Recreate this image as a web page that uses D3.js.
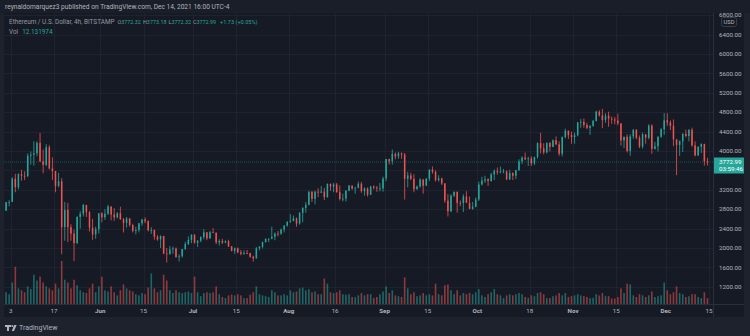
<!DOCTYPE html>
<html><head><meta charset="utf-8">
<script src="https://cdn.jsdelivr.net/npm/d3@7"></script>
<style>
html,body{margin:0;padding:0;background:#1e222d;overflow:hidden;}
svg{display:block;}
text{font-family:Roboto,"Liberation Sans",Arial,sans-serif;}
</style></head><body>
<svg id="c" width="750" height="336"></svg>
<script>
// ---- data: daily candles [open, high, low, close], ETH/USD, starting 2021-05-01
const startDate = "2021-05-01";
const may = [
[2772,2950,2760,2945],[2945,2985,2860,2950],[2950,3460,2950,3431],[3431,3530,3150,3253],[3253,3540,3210,3522],
[3522,3610,3390,3490],[3490,3580,3400,3484],[3484,3950,3460,3903],[3903,3990,3720,3924],[3924,4200,3700,3952],
[3952,4200,3890,4168],[4168,4372,3780,3785],[3785,4030,3540,3715],[3715,4140,3690,4079],[4079,4120,3620,3640],
[3640,3870,3400,3587],[3587,3590,3150,3282],[3282,3550,3250,3374],[3374,3440,1870,2430],[2430,2950,2150,2784],
[2784,2930,2120,2430],[2430,2490,2150,2296],[2296,2380,1730,2101],[2101,2650,2080,2643],[2643,2760,2400,2706],
[2706,2910,2650,2888],[2888,2890,2640,2736],[2736,2760,2340,2419],[2419,2600,2170,2280],[2280,2440,2190,2386],
[2386,2720,2300,2714]];
const jun = [
[2714,2740,2530,2634],[2634,2800,2580,2707],[2707,2890,2680,2855],[2855,2860,2570,2689],[2689,2820,2560,2630],
[2630,2740,2610,2715],[2715,2850,2580,2590],[2590,2620,2320,2517],[2517,2640,2420,2608],[2608,2620,2440,2472],
[2472,2500,2320,2354],[2354,2440,2280,2372],[2372,2520,2320,2508],[2508,2600,2460,2587],[2587,2630,2510,2553],
[2553,2570,2340,2367],[2367,2430,2290,2373],[2373,2380,2170,2231],[2231,2270,2150,2178],[2178,2260,2000,2247],
[2247,2250,1870,1888],[1888,2000,1700,1875],[1875,2040,1860,1971],[1971,2030,1880,1990],[1990,2010,1800,1812],
[1812,1870,1720,1829],[1829,1980,1800,1979],[1979,2130,1960,2083],[2083,2240,2060,2165],[2165,2280,2100,2275]];
const jul = [
[2275,2280,2090,2110],[2110,2160,2020,2150],[2150,2240,2120,2226],[2226,2390,2180,2322],[2322,2330,2160,2198],
[2198,2350,2190,2324],[2324,2410,2310,2315],[2315,2320,2080,2116],[2116,2180,2050,2146],[2146,2190,2080,2111],
[2111,2160,2100,2139],[2139,2170,2020,2036],[2036,2040,1930,1940],[1940,2010,1880,1994],[1994,2010,1890,1911],
[1911,1960,1850,1880],[1880,1950,1860,1898],[1898,1960,1870,1895],[1895,1900,1800,1820],[1820,1840,1718,1787],
[1787,2020,1780,1995],[1995,2040,1950,2025],[2025,2130,1990,2124],[2124,2200,2110,2187],[2187,2200,2120,2191],
[2191,2440,2180,2231],[2231,2320,2160,2298],[2298,2350,2240,2297],[2297,2400,2270,2383],[2383,2470,2320,2462],
[2462,2550,2440,2540]];
const aug = [
[2540,2700,2520,2559],[2559,2670,2550,2611],[2611,2630,2440,2505],[2505,2740,2480,2725],[2725,2840,2530,2827],
[2827,2950,2730,2890],[2890,3180,2880,3157],[3157,3180,2950,3013],[3013,3180,2900,3163],[3163,3230,3050,3142],
[3142,3280,3130,3164],[3164,3240,2990,3048],[3048,3330,3040,3322],[3322,3330,3180,3266],[3266,3340,3150,3310],
[3310,3340,3140,3150],[3150,3290,2980,3012],[3012,3120,2960,3017],[3017,3190,2960,3182],[3182,3300,3170,3286],
[3286,3290,3200,3225],[3225,3260,3120,3241],[3241,3370,3230,3324],[3324,3360,3140,3172],[3172,3250,3080,3228],
[3228,3250,3060,3099],[3099,3280,3090,3269],[3269,3290,3210,3245],[3245,3280,3160,3227],[3227,3340,3170,3227],
[3227,3470,3160,3433]];
const sep = [
[3433,3840,3380,3834],[3834,3840,3720,3789],[3789,4030,3720,3941],[3941,3970,3830,3887],[3887,3980,3840,3952],
[3952,3970,3840,3927],[3927,3960,3000,3427],[3427,3570,3250,3497],[3497,3550,3400,3427],[3427,3520,3150,3212],
[3212,3290,3200,3270],[3270,3440,3240,3410],[3410,3420,3120,3285],[3285,3440,3280,3430],[3430,3620,3380,3615],
[3615,3680,3530,3572],[3572,3600,3370,3400],[3400,3500,3370,3433],[3433,3450,3300,3331],[3331,3340,2930,2977],
[2977,3110,2650,2757],[2757,3110,2740,3078],[3078,3170,3050,3155],[3155,3170,2730,2931],[2931,2980,2860,2925],
[2925,3110,2740,3062],[3062,3170,2930,2934],[2934,3060,2800,2807],[2807,2950,2790,2850],[2850,3040,2840,3001]];
const oct = [
[3001,3370,2970,3309],[3309,3470,3290,3390],[3390,3490,3340,3418],[3418,3440,3280,3380],[3380,3550,3370,3517],
[3517,3620,3400,3589],[3589,3660,3510,3563],[3563,3680,3540,3575],[3575,3630,3540,3577],[3577,3600,3400,3415],
[3415,3610,3400,3545],[3545,3560,3400,3489],[3489,3610,3420,3606],[3606,3830,3590,3787],[3787,3890,3730,3865],
[3865,3970,3810,3829],[3829,3880,3690,3847],[3847,3890,3690,3744],[3744,3880,3710,3878],[3878,4180,3840,4162],
[4162,4375,3950,4055],[4055,4160,3930,3971],[3971,4170,3950,4169],[4169,4180,3990,4084],[4084,4240,4080,4222],
[4222,4300,4120,4138],[4138,4200,3900,3944],[3944,4300,3890,4287],[4287,4460,4260,4419],[4419,4420,4250,4326],
[4326,4400,4150,4288]];
const nov = [
[4288,4380,4150,4324],[4324,4600,4300,4590],[4590,4660,4480,4603],[4603,4670,4480,4537],[4537,4580,4450,4477],
[4477,4530,4330,4518],[4518,4640,4500,4620],[4620,4830,4610,4812],[4812,4840,4710,4735],[4735,4868,4470,4637],
[4637,4780,4580,4730],[4730,4810,4500,4668],[4668,4710,4560,4649],[4649,4700,4550,4627],[4627,4770,4530,4570],
[4570,4570,4110,4218],[4218,4300,4060,4291],[4291,4340,3970,3999],[3999,4350,3900,4302],[4302,4450,4250,4437],
[4437,4450,4240,4271],[4271,4320,4060,4091],[4091,4380,4050,4343],[4343,4350,4150,4273],[4273,4550,4240,4525],
[4525,4550,3940,4045],[4045,4190,4030,4098],[4098,4300,3990,4295],[4295,4470,4270,4448],[4448,4780,4330,4632]];
const dec = [
[4632,4780,4520,4588],[4588,4630,4430,4518],[4518,4650,4100,4240],[4240,4240,3500,4124],[4124,4220,3900,4201],
[4201,4370,3980,4353],[4353,4440,4280,4308],[4308,4450,4200,4437],[4437,4480,4090,4115],[4115,4200,3890,3909],
[3909,4100,3900,4086],[4086,4160,3960,4143],[4143,4150,3700,3787],[3787,3860,3700,3773]];

// daily volume (thousand ETH)
const volMay = [30,25,55,95,40,35,30,45,38,75,60,70,55,45,40,35,52,40,110,62,55,40,62,48,35,30,28,40,52,30,45];
const volJun = [70,35,32,45,30,22,35,50,40,35,32,25,22,28,25,42,78,40,30,35,75,60,35,28,35,30,28,30,32,28];
const volJul = [70,30,20,28,30,28,30,45,25,18,15,22,24,22,25,22,15,15,24,30,45,25,22,20,18,35,30,22,22,25,22];
const volAug = [35,30,32,40,42,35,38,30,32,25,25,65,52,30,28,30,35,25,24,25,18,18,22,28,22,25,25,15,18,25,32];
const volSep = [45,28,35,22,20,18,68,40,25,30,20,22,28,22,25,22,52,25,22,48,50,35,25,35,22,28,25,28,25,30];
const volOct = [38,22,18,25,30,38,25,22,15,22,25,22,25,28,25,18,16,22,20,28,30,25,15,15,20,22,28,22,28,18,20];
const volNov = [22,25,22,20,18,15,16,25,22,28,20,20,14,14,18,40,28,52,50,22,18,25,22,18,22,32,18,20,22,55];
const volDec = [35,25,30,45,28,25,18,20,25,25,18,15,30,15];

const priceTicks = [1200,1600,2000,2400,2800,3200,3600,4000,4400,4800,5200,5600,6000,6400,6800];
const timeTicks = [
 ["2021-05-03","3",false],["2021-05-17","17",false],["2021-06-01","Jun",true],["2021-06-15","15",false],
 ["2021-07-01","Jul",true],["2021-07-15","15",false],["2021-08-01","Aug",true],["2021-08-16","16",false],
 ["2021-09-01","Sep",true],["2021-09-15","15",false],["2021-10-01","Oct",true],["2021-10-18","18",false],
 ["2021-11-01","Nov",true],["2021-11-15","15",false],["2021-12-01","Dec",true],["2021-12-15","15",false]];
const legendItems = [["O","3772.32"],["H","3773.18"],["L","3772.32"],["C","3772.99"]];
const lastPrice = 3772.99;
const headerText = "reynaldomarquez3 published on TradingView.com, Dec 14, 2021 16:00 UTC-4";

// ---- build
const ohlc = [...may,...jun,...jul,...aug,...sep,...oct,...nov,...dec];
const vols = [...volMay,...volJun,...volJul,...volAug,...volSep,...volOct,...volNov,...volDec];
const DAY = 864e5;
const t0 = new Date(startDate+"T00:00:00Z").getTime();
const data = ohlc.map((d,i)=>({t:new Date(t0+i*DAY+DAY/2),o:d[0],h:d[1],l:d[2],c:d[3],v:vols[i]}));

const UP="#26a69a", DN="#ef5350";
const svg = d3.select("#c");
const P = {x0:4,x1:744,y0:13,y1:317,px:713,ty:304};

const x = d3.scaleUtc().domain([new Date("2021-05-03T00:00:00Z"),new Date("2021-12-15T00:00:00Z")]).range([10.7,709]);
const y = d3.scaleLinear().domain([1200,6800]).range([286.8,15.2]);
const yv = d3.scaleLinear().domain([0,115]).range([P.ty,P.ty-45]);

// background
svg.append("rect").attr("width",750).attr("height",336).attr("fill","#1e222d");
svg.append("rect").attr("x",0).attr("y",0).attr("width",750).attr("height",P.y0).attr("fill","#1a1e29");
svg.append("rect").attr("x",P.x0).attr("y",P.y0).attr("width",P.x1-P.x0).attr("height",P.y1-P.y0).attr("fill","#161a25");

const defs = svg.append("defs");
defs.append("clipPath").attr("id","plot").append("rect").attr("x",P.x0).attr("y",P.y0).attr("width",P.px-P.x0).attr("height",P.ty-P.y0);
defs.append("clipPath").attr("id","axis").append("rect").attr("x",P.px).attr("y",P.y0).attr("width",P.x1-P.px).attr("height",P.y1-P.y0);

// grid
const grid = svg.append("g").attr("clip-path","url(#plot)");
grid.selectAll("line.h").data(priceTicks).join("line")
  .attr("x1",P.x0).attr("x2",P.px).attr("y1",d=>Math.round(y(d))+0.5).attr("y2",d=>Math.round(y(d))+0.5)
  .attr("stroke","#1f2331").attr("stroke-width",1);
grid.selectAll("line.v").data(timeTicks).join("line")
  .attr("x1",d=>Math.round(x(new Date(d[0]+"T00:00:00Z")))+0.5).attr("x2",d=>Math.round(x(new Date(d[0]+"T00:00:00Z")))+0.5)
  .attr("y1",P.y0).attr("y2",P.ty).attr("stroke","#1f2331").attr("stroke-width",1);

// volume
const gv = svg.append("g").attr("clip-path","url(#plot)");
gv.selectAll("rect").data(data).join("rect")
  .attr("x",d=>x(d.t)-0.8).attr("width",1.6)
  .attr("y",d=>yv(d.v)).attr("height",d=>P.ty-yv(d.v))
  .attr("fill",d=>d.c>=d.o?UP:DN).attr("opacity",0.55);

// last price line
svg.append("line").attr("x1",P.x0).attr("x2",P.px).attr("y1",y(lastPrice)).attr("y2",y(lastPrice))
  .attr("stroke",UP).attr("stroke-opacity",0.4).attr("stroke-width",1).attr("stroke-dasharray","1,1");

// candles
const gc = svg.append("g").attr("clip-path","url(#plot)");
gc.selectAll("line").data(data).join("line")
  .attr("x1",d=>x(d.t)).attr("x2",d=>x(d.t)).attr("y1",d=>y(d.h)).attr("y2",d=>y(d.l))
  .attr("stroke",d=>d.c>=d.o?UP:DN).attr("stroke-width",0.8);
gc.selectAll("rect").data(data).join("rect")
  .attr("x",d=>x(d.t)-0.75).attr("width",1.5)
  .attr("y",d=>y(Math.max(d.o,d.c))).attr("height",d=>Math.max(0.8,Math.abs(y(d.o)-y(d.c))))
  .attr("fill",d=>d.c>=d.o?UP:DN);

// separators
svg.append("line").attr("x1",P.px+0.5).attr("x2",P.px+0.5).attr("y1",P.y0).attr("y2",P.y1).attr("stroke","#2a2e39");
svg.append("line").attr("x1",P.x0).attr("x2",P.x1).attr("y1",P.ty+0.5).attr("y2",P.ty+0.5).attr("stroke","#2a2e39");

// price axis labels
const ga = svg.append("g").attr("clip-path","url(#axis)");
ga.selectAll("text").data(priceTicks).join("text")
  .attr("x",719).attr("y",d=>y(d)).attr("dy","0.35em")
  .attr("font-size",6.2).attr("fill","#b2b5be").text(d=>d3.format(".2f")(d));

// USD badge
svg.append("rect").attr("x",721.5).attr("y",17.5).attr("width",15).attr("height",9).attr("rx",2)
  .attr("fill","#161a25").attr("stroke","#434651").attr("stroke-width",0.8);
svg.append("text").attr("x",729).attr("y",22).attr("dy","0.35em").attr("text-anchor","middle")
  .attr("font-size",5.8).attr("fill","#b2b5be").text("USD");

// last price badge
svg.append("rect").attr("x",P.px+1).attr("y",157.5).attr("width",P.x1-P.px-1).attr("height",16).attr("fill",UP);
svg.append("text").attr("x",719).attr("y",161.8).attr("dy","0.35em").attr("font-size",6.2).attr("fill","#ffffff").text(d3.format(".2f")(lastPrice));
svg.append("text").attr("x",719).attr("y",169.3).attr("dy","0.35em").attr("font-size",6.2).attr("fill","#ffffff").text("03:59:46");

// time axis labels
svg.append("g").selectAll("text").data(timeTicks).join("text")
  .attr("x",d=>x(new Date(d[0]+"T00:00:00Z"))).attr("y",311).attr("dy","0.35em").attr("text-anchor","middle")
  .attr("font-size",6.2).attr("font-weight",d=>d[2]?"bold":"normal").attr("fill","#b2b5be").text(d=>d[1]);

// header
svg.append("text").attr("x",5).attr("y",7).attr("dy","0.35em").attr("font-size",6.6).attr("fill","#b2b5be").text(headerText);

// legend
const legY = 22, legX = [117.5,143,168.5,193];
svg.append("text").attr("x",9).attr("y",legY).attr("dy","0.35em").attr("font-size",6.4).attr("fill","#9598a1")
  .text("Ethereum / U.S. Dollar, 4h, BITSTAMP");
legendItems.forEach(([k,v],i)=>{
  const t = svg.append("text").attr("x",legX[i]).attr("y",legY).attr("dy","0.35em").attr("font-size",5.4).attr("fill","#9598a1");
  t.append("tspan").text(k);
  t.append("tspan").attr("fill",UP).text(v);
});
svg.append("text").attr("x",220).attr("y",legY).attr("dy","0.35em").attr("font-size",5.6).attr("fill",UP).text("+1.73 (+0.05%)");
const vl = svg.append("text").attr("x",9).attr("y",31.5).attr("dy","0.35em").attr("font-size",6.4).attr("fill","#9598a1");
vl.append("tspan").text("Vol");
vl.append("tspan").attr("dx",4).attr("fill",UP).text("12.131974");

// footer logo
const lg = svg.append("g").attr("fill","#b2b5be");
lg.append("path").attr("d","M5 325h6v2h-2v4h-2v-4h-2z");
lg.append("circle").attr("cx",12.3).attr("cy",326).attr("r",1);
lg.append("path").attr("d","M14.2 325h2.4l-2.6 6h-2.2z");
svg.append("text").attr("x",19).attr("y",328).attr("dy","0.35em").attr("font-size",7).attr("fill","#b2b5be").text("TradingView");
</script>
</body></html>
